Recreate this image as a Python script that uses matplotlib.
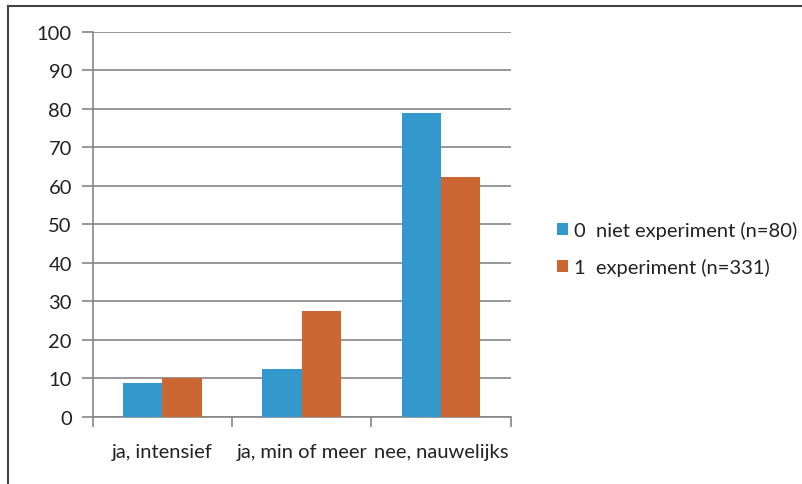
import matplotlib
matplotlib.use("Agg")
import matplotlib.pyplot as plt
import numpy as np
from matplotlib.patches import Patch
from matplotlib.lines import Line2D

plt.rcParams['font.family'] = ['Lato', 'DejaVu Sans']

categories = ['ja, intensief', 'ja, min of meer', 'nee, nauwelijks']
series_names = ['0  niet experiment (n=80)', '1  experiment (n=331)']
niet_exp = [8.8, 12.4, 79.0]
exp = [10.1, 27.5, 62.2]
colors = ['#3399cc', '#cc6633']
grid_col = '#868686'
txt_col = '#222222'
fs = 14.5

fig = plt.figure(figsize=(8.02, 4.85), dpi=100)
ax = fig.add_axes([0.1156, 0.1388, 0.5212, 0.7932])

x = np.arange(len(categories))
w = 0.2825
ax.bar(x - w / 2, niet_exp, w, color=colors[0], zorder=3)
ax.bar(x + w / 2, exp, w, color=colors[1], zorder=3)

ax.set_xlim(-0.5, 2.5)
ax.set_ylim(0, 100)
ax.set_yticks(range(0, 101, 10))
ax.yaxis.grid(True, color=grid_col, linewidth=1.2, zorder=0)
ax.tick_params(axis='y', length=8, width=1.2, color=grid_col, pad=7,
               labelsize=fs, labelcolor=txt_col)

# category boundaries as ticks, labels in the middle
ax.set_xticks([-0.5, 0.5, 1.5, 2.5])
ax.set_xticklabels([])
ax.tick_params(axis='x', length=7, width=1.2, color=grid_col)
for i, c in enumerate(categories):
    ax.text(i, -6.8, c, ha='center', va='top', fontsize=fs, color=txt_col)

for s in ['top', 'right']:
    ax.spines[s].set_visible(False)
for s in ['left', 'bottom']:
    ax.spines[s].set_color(grid_col)
    ax.spines[s].set_linewidth(1.2)

handles = [Patch(facecolor=colors[0]), Patch(facecolor=colors[1])]
leg = fig.legend(handles, series_names, loc='upper left',
                 bbox_to_anchor=(0.672, 0.58), frameon=False, fontsize=fs,
                 handlelength=0.55, handleheight=0.55, handletextpad=0.3,
                 labelspacing=0.95, labelcolor=txt_col)

# outer frame, left and top only
fig.add_artist(Line2D([0.0105, 0.0105], [0, 0.985], color='#444444', lw=1.5,
                      transform=fig.transFigure))
fig.add_artist(Line2D([0.0105, 1], [0.985, 0.985], color='#444444', lw=1.5,
                      transform=fig.transFigure))

fig.savefig('out.png', dpi=100)
